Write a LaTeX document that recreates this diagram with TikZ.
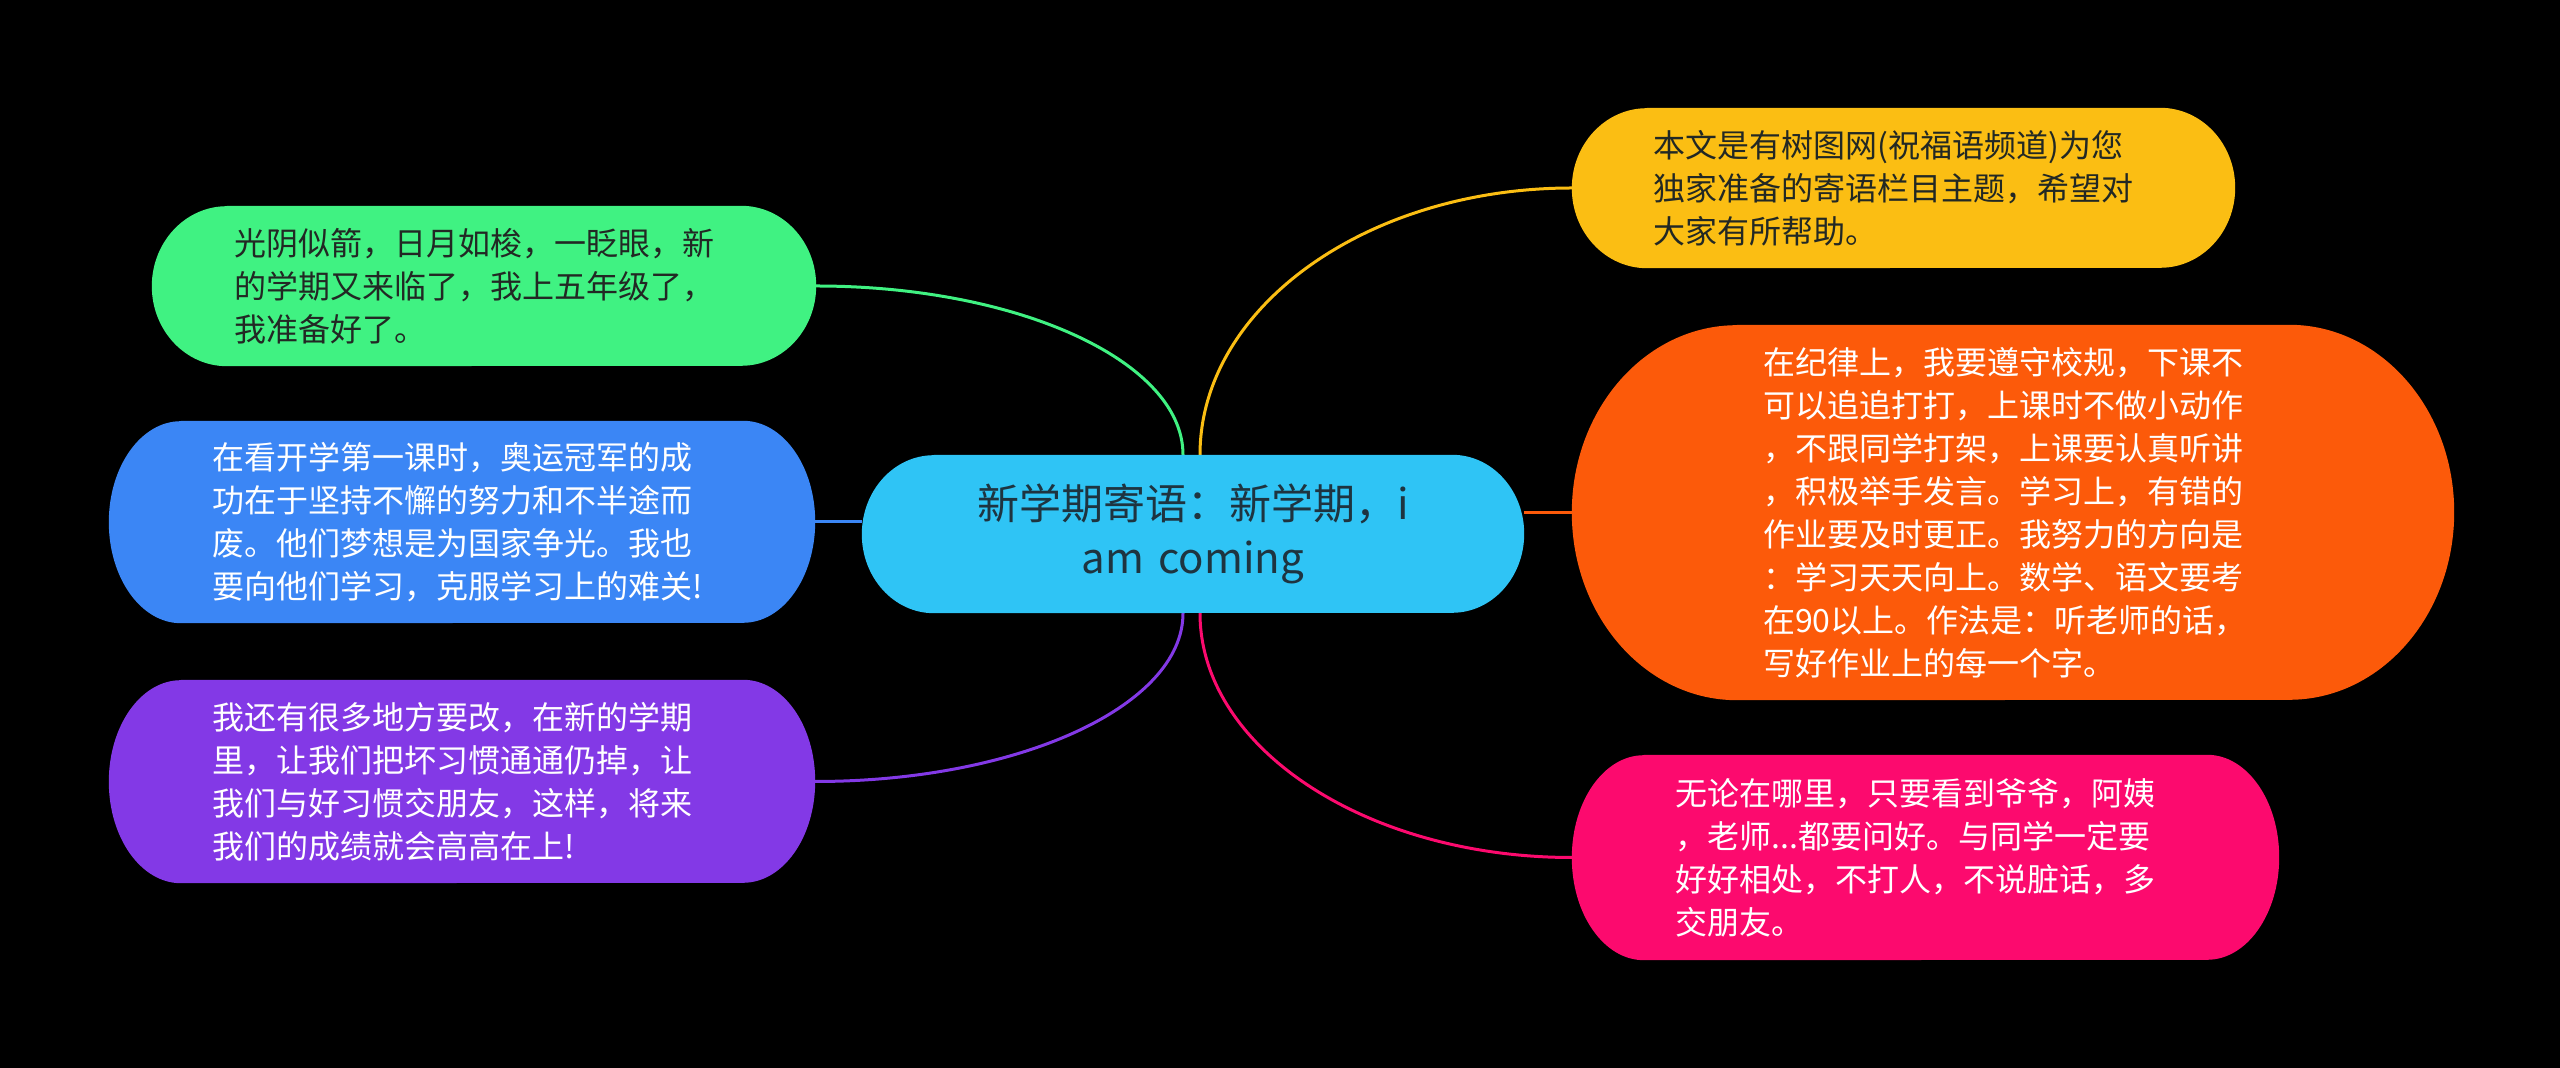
\documentclass[tikz,border=0pt]{standalone}
\usepackage{fontspec}
\setmainfont{Noto Sans CJK SC}
\usetikzlibrary{calc}
\pgfdeclarelayer{bg}
\pgfsetlayers{bg,main}
\definecolor{cCen}{RGB}{47,196,245}
\definecolor{cGrn}{RGB}{64,242,130}
\definecolor{cBlu}{RGB}{59,134,245}
\definecolor{cPur}{RGB}{131,57,230}
\definecolor{cYel}{RGB}{251,190,19}
\definecolor{cOrg}{RGB}{252,90,10}
\definecolor{cPnk}{RGB}{252,10,110}
\definecolor{tCen}{RGB}{30,52,64}
\definecolor{tDark}{RGB}{34,40,36}
\newcommand\mmshape[4]{%
  \fill[#4] ($(#1.north west)+(#2,0)$) -- ($(#1.north east)+(-#2,0)$)
    arc[start angle=90,end angle=-90,x radius=#2pt,y radius=#3pt]
    -- ($(#1.south west)+(#2,0)$)
    arc[start angle=270,end angle=90,x radius=#2pt,y radius=#3pt] -- cycle;}
\begin{document}
\begin{tikzpicture}[x=1pt,y=1pt,
  leaf/.style={inner sep=0pt, text width=500pt, align=left, font=\fontsize{32}{43}\selectfont},
  link/.style={line width=3pt}]
\begin{pgfonlayer}{bg}
\fill[black] (0,0) rectangle (2560,1068);
\end{pgfonlayer}
\useasboundingbox (0,0) rectangle (2560,1068);

\node[inner sep=0pt, minimum width=662pt, minimum height=158pt, text width=620pt,
  align=center, font=\fontsize{42}{54}\selectfont, text=tCen] (c) at (1193,534)
  {新学期寄语：新学期，i\\am coming};

\node[leaf, minimum width=664pt, minimum height=160pt, text=tDark] (g) at (484,782)
  {光阴似箭，日月如梭，一眨眼，新\\的学期又来临了，我上五年级了，\\我准备好了。};
\node[leaf, minimum width=706pt, minimum height=202pt, text=white] (b) at (462,546)
  {在看开学第一课时，奥运冠军的成\\功在于坚持不懈的努力和不半途而\\废。他们梦想是为国家争光。我也\\要向他们学习，克服学习上的难关!};
\node[leaf, minimum width=706pt, minimum height=203pt, text=white] (p) at (462,286.5)
  {我还有很多地方要改，在新的学期\\里，让我们把坏习惯通通仍掉，让\\我们与好习惯交朋友，这样，将来\\我们的成绩就会高高在上!};
\node[leaf, minimum width=663pt, minimum height=160pt, text=tDark] (y) at (1903.5,880)
  {本文是有树图网(祝福语频道)为您\\独家准备的寄语栏目主题，希望对\\大家有所帮助。};
\node[leaf, minimum width=882pt, minimum height=375pt, text=white] (o) at (2013,555.5)
  {在纪律上，我要遵守校规，下课不\\可以追追打打，上课时不做小动作\\，不跟同学打架，上课要认真听讲\\，积极举手发言。学习上，有错的\\作业要及时更正。我努力的方向是\\：学习天天向上。数学、语文要考\\在90以上。作法是：听老师的话，\\写好作业上的每一个字。};
\node[leaf, minimum width=707pt, minimum height=205pt, text=white] (k) at (1925.5,210.5)
  {无论在哪里，只要看到爷爷，阿姨\\，老师...都要问好。与同学一定要\\好好相处，不打人，不说脏话，多\\交朋友。};

\coordinate (gs) at ($(c.north)+(-10,0)$);
\coordinate (ys) at ($(c.north)+(7,0)$);
\coordinate (ps) at ($(c.south)+(-10,0)$);
\coordinate (ks) at ($(c.south)+(7,0)$);

\begin{pgfonlayer}{bg}
\draw[link, cGrn] (gs) .. controls ($(gs)!0.552!(gs|-g.east)$) and ($(g.east)!0.552!(gs|-g.east)$) .. (g.east);
\draw[link, cYel] (ys) .. controls ($(ys)!0.552!(ys|-y.west)$) and ($(y.west)!0.552!(ys|-y.west)$) .. (y.west);
\draw[link, cPur] (ps) .. controls ($(ps)!0.552!(ps|-p.east)$) and ($(p.east)!0.552!(ps|-p.east)$) .. (p.east);
\draw[link, cPnk] (ks) .. controls ($(ks)!0.552!(ks|-k.west)$) and ($(k.west)!0.552!(ks|-k.west)$) .. (k.west);
\draw[link, cBlu] (b.east) -- (b.east -| c.west);
\draw[link, cOrg] (c.east |- o.west) -- (o.west);
\mmshape{c}{72}{79}{cCen}
\mmshape{g}{75}{80}{cGrn}
\mmshape{b}{72}{101}{cBlu}
\mmshape{p}{72}{101.5}{cPur}
\mmshape{y}{75}{80}{cYel}
\mmshape{o}{165}{187.5}{cOrg}
\mmshape{k}{72}{102.5}{cPnk}
\end{pgfonlayer}
\end{tikzpicture}
\end{document}
